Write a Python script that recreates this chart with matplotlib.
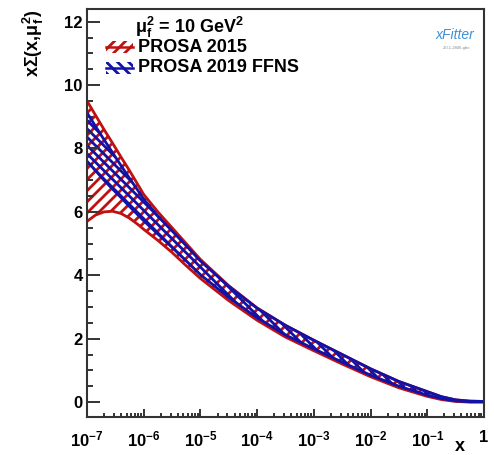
import numpy as np
import matplotlib
matplotlib.use("Agg")
import matplotlib.pyplot as plt
from matplotlib.patches import Rectangle
from matplotlib.lines import Line2D
from matplotlib.ticker import LogLocator, MultipleLocator, NullFormatter

plt.rcParams['font.family'] = ['Liberation Sans', 'DejaVu Sans']
plt.rcParams['font.weight'] = 'bold'
plt.rcParams['mathtext.fontset'] = 'custom'
plt.rcParams['mathtext.rm'] = 'Liberation Sans:bold'
plt.rcParams['mathtext.bf'] = 'Liberation Sans:bold'
plt.rcParams['mathtext.it'] = 'Liberation Sans:bold'
plt.rcParams['mathtext.default'] = 'bf'
plt.rcParams['hatch.linewidth'] = 2.0

# ---------------- data ----------------
log10_x = [-7, -6.85, -6.7, -6.55, -6.4, -6.25, -6.1, -6, -5.75, -5.5, -5.25, -5,
           -4.5, -4, -3.5, -3, -2.5, -2, -1.5, -1, -0.75, -0.5, -0.25, 0]
prosa2015_up = [9.5, 9.05, 8.6, 8.17, 7.73, 7.3, 6.85, 6.55, 6.0, 5.5, 5.0, 4.5,
                3.67, 2.97, 2.42, 1.95, 1.5, 1.05, 0.65, 0.33, 0.17, 0.07, 0.03, 0.02]
prosa2015_lo = [5.7, 5.9, 6.0, 6.02, 5.95, 5.8, 5.6, 5.45, 5.1, 4.72, 4.3, 3.9,
                3.2, 2.58, 2.05, 1.62, 1.2, 0.8, 0.45, 0.18, 0.08, 0.02, 0.0, 0.0]
prosa2019_up = [9.13, 8.7, 8.28, 7.87, 7.46, 7.06, 6.67, 6.4, 5.87, 5.4, 4.93, 4.45,
                3.65, 2.96, 2.42, 1.95, 1.5, 1.05, 0.65, 0.33, 0.17, 0.07, 0.03, 0.02]
prosa2019_lo = [7.6, 7.3, 7.0, 6.72, 6.45, 6.17, 5.9, 5.72, 5.3, 4.88, 4.45, 4.02,
                3.3, 2.66, 2.12, 1.68, 1.26, 0.85, 0.5, 0.22, 0.11, 0.04, 0.01, 0.01]

series_labels = ['PROSA 2015', 'PROSA 2019 FFNS']
legend_header = r'$\mu_f^2$ = 10 GeV$^2$'
xtick_values = [1e-7, 1e-6, 1e-5, 1e-4, 1e-3, 1e-2, 1e-1, 1]
xtick_labels = [r'10$^{-7}$', r'10$^{-6}$', r'10$^{-5}$', r'10$^{-4}$',
                r'10$^{-3}$', r'10$^{-2}$', r'10$^{-1}$', '1']
ytick_values = [0, 2, 4, 6, 8, 10, 12]
ytick_labels = ['0', '2', '4', '6', '8', '10', '12']

RED = '#bf1111'
BLUE = '#1212a8'

x = 10.0 ** np.array(log10_x)

W, H = 494, 455
fig = plt.figure(figsize=(W / 100, H / 100), dpi=100)
ax = fig.add_axes([87 / W, 1 - 417 / H, (484 - 87) / W, (417 - 9) / H])

def band(lo, up, color, hatch):
    ax.fill_between(x, lo, up, facecolor='none', edgecolor=color, hatch=hatch,
                    linewidth=0)
    ax.plot(x, up, color=color, lw=2.0)
    ax.plot(x, lo, color=color, lw=2.0)

band(prosa2015_lo, prosa2015_up, RED, '///')
band(prosa2019_lo, prosa2019_up, BLUE, '\\\\\\\\')

ax.set_xscale('log')
ax.set_xlim(1e-7, 1)
ax.set_ylim(-0.47, 12.4)
ax.set_xticks(xtick_values)
ax.set_xticklabels(xtick_labels)
ax.xaxis.set_minor_locator(LogLocator(base=10, subs=np.arange(2, 10), numticks=50))
ax.xaxis.set_minor_formatter(NullFormatter())
ax.set_yticks(ytick_values)
ax.set_yticklabels(ytick_labels)
ax.yaxis.set_minor_locator(MultipleLocator(0.5))

ax.tick_params(axis='both', which='both', direction='in', top=False, right=False,
               width=1.4, color='#333333')
ax.tick_params(axis='y', which='major', length=9, pad=3, labelsize=12)
ax.tick_params(axis='y', which='minor', length=4.5)
ax.tick_params(axis='x', which='major', length=5.5, pad=9, labelsize=12)
ax.tick_params(axis='x', which='minor', length=2.8)
for s in ax.spines.values():
    s.set_linewidth(1.5)
    s.set_color('#333333')

# axis titles
fig.text(33 / W, 1 - 9 / H, r'x$\Sigma$(x,$\mu_f^2$)', rotation=90, ha='center',
         va='top', fontsize=13, fontweight='bold')
fig.text(460 / W, 1 - 451 / H, 'x', ha='center', va='baseline', fontsize=13,
         fontweight='bold')

# legend (manual, ROOT style)
fig.text(135 / W, 1 - 27 / H, legend_header, ha='left', va='center', fontsize=13,
         fontweight='bold')
for i, (lab, col, hat) in enumerate(zip(series_labels, [RED, BLUE], ['///', '\\\\\\'])):
    yc = 47 + 21 * i
    fig.add_artist(Rectangle((106 / W, 1 - (yc + 6) / H), 27 / W, 12 / H,
                             transform=fig.transFigure, facecolor='none',
                             edgecolor=col, hatch=hat, linewidth=0))
    fig.add_artist(Line2D([106 / W, 133 / W], [1 - yc / H, 1 - yc / H],
                          transform=fig.transFigure, color=col, lw=1.8))
    fig.text(138 / W, 1 - yc / H, lab, ha='left', va='center', fontsize=13,
             fontweight='bold')

# xFitter logo
fig.text(455 / W, 1 - 35 / H, 'xFitter', ha='center', va='center', fontsize=10,
         style='italic', fontweight='normal', color='#3d8fd6')
fig.text(457 / W, 1 - 48 / H, '2.0.1-2846-gbn', ha='center', va='center',
         fontsize=3, fontweight='normal', color='#888888')

fig.savefig('out.png', dpi=100)
